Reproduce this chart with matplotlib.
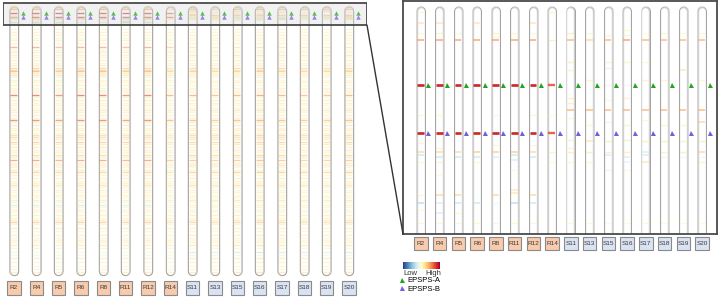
import numpy as np
import matplotlib
matplotlib.use("Agg")
import matplotlib.pyplot as plt
from matplotlib.patches import Rectangle, ConnectionPatch
from matplotlib.lines import Line2D

plt.rcParams["font.family"] = ["Liberation Sans", "DejaVu Sans"]

W, H = 720, 297

SAMPLES = ["R2", "R4", "R5", "R6", "R8", "R11", "R12", "R14",
           "S11", "S13", "S15", "S16", "S17", "S18", "S19", "S20"]
GROUPS = ["R"] * 8 + ["S"] * 8

CHROM_LEN = 142.0     # Mb
WINDOW_END = 10.0     # zoomed region 0-10 Mb
EPSPS_A = 3.44
EPSPS_B = 5.55

# whole chromosome, outside the zoom window: (position Mb, relative copy number)
R_PROFILE = [(12.0, 0.1), (13.5, 0.15), (15.3, 0.12), (16.8, 0.1), (17.9, 0.15),
             (19.5, 0.12), (21.6, 0.5), (23.0, 0.15), (24.2, 0.2), (25.8, 0.15),
             (27.0, 0.12), (28.4, 0.15), (30.0, 0.1), (31.1, 0.2), (32.6, 0.35),
             (33.5, 0.3), (34.2, 0.45), (35.3, 0.2), (36.3, 0.25), (37.6, 0.12),
             (38.9, 0.15), (40.2, 0.1), (41.6, 0.15), (43.0, 0.12), (44.2, 0.15),
             (45.5, 0.12), (46.8, 0.7), (48.0, 0.15), (49.5, 0.2), (51.0, 0.12),
             (52.1, 0.15), (53.5, 0.1), (54.7, 0.2), (56.0, 0.15), (57.4, 0.15),
             (58.8, 0.12), (60.0, 0.65), (61.3, 0.15), (62.6, 0.2), (64.0, 0.12),
             (65.3, 0.15), (66.8, 0.12), (68.0, 0.3), (68.9, 0.3), (70.2, 0.2),
             (71.6, 0.35), (72.8, 0.2), (74.2, 0.2), (75.8, 0.15), (77.0, 0.15),
             (78.4, 0.3), (79.6, 0.2), (81.1, 0.55), (82.4, 0.15), (83.7, 0.2),
             (85.0, 0.15), (86.3, 0.2), (87.4, 0.35), (88.8, 0.15), (90.5, 0.15),
             (92.0, 0.12), (93.0, 0.15), (94.2, 0.25), (95.5, 0.12), (96.8, 0.15),
             (98.0, 0.1), (99.5, 0.15), (100.8, 0.1), (102.1, 0.2), (103.4, 0.12),
             (104.7, -0.3), (106.0, 0.1), (107.4, 0.15), (108.7, 0.1), (110.0, 0.15),
             (111.5, 0.12), (112.6, 0.2), (113.7, 0.35), (115.0, 0.12), (116.8, 0.2),
             (118.5, 0.1), (120.5, 0.15), (122.0, 0.1), (123.2, 0.15), (124.5, 0.12),
             (125.8, 0.2), (127.5, 0.12), (129.5, -0.15), (131.0, 0.1), (132.6, 0.15),
             (134.7, 0.12), (136.8, -0.2), (138.5, 0.12), (140.0, 0.2)]
S_PROFILE = [(12.0, 0.12), (13.5, 0.1), (15.3, 0.15), (16.8, 0.12), (17.9, 0.1),
             (19.5, 0.15), (21.6, 0.25), (23.0, 0.12), (24.2, 0.15), (25.8, 0.25),
             (27.0, 0.1), (28.4, 0.2), (30.0, 0.12), (31.1, 0.2), (32.6, 0.35),
             (33.5, 0.25), (34.2, 0.4), (35.3, 0.15), (36.3, 0.2), (37.6, 0.15),
             (38.9, 0.12), (40.2, 0.15), (41.6, 0.1), (43.0, 0.15), (44.2, 0.12),
             (45.5, 0.15), (46.8, 0.55), (48.0, 0.12), (49.5, 0.2), (51.0, 0.15),
             (52.1, 0.12), (53.5, 0.15), (54.7, 0.25), (56.0, 0.12), (57.4, 0.15),
             (58.8, 0.15), (60.0, 0.5), (61.3, 0.2), (62.6, 0.25), (64.0, 0.15),
             (65.3, 0.2), (66.8, 0.15), (68.0, 0.35), (68.9, 0.3), (70.2, 0.25),
             (71.6, 0.35), (72.8, 0.25), (74.2, 0.15), (75.8, 0.2), (77.0, 0.12),
             (78.4, 0.35), (79.6, 0.25), (81.1, 0.45), (82.4, 0.2), (83.7, 0.25),
             (85.0, 0.12), (86.3, 0.15), (87.4, 0.4), (88.8, 0.12), (90.5, 0.2),
             (92.0, 0.15), (93.0, 0.12), (94.2, 0.3), (95.5, 0.15), (96.8, 0.12),
             (98.0, 0.15), (99.5, 0.12), (100.8, 0.15), (102.1, 0.25), (103.4, 0.1),
             (104.7, 0.15), (106.0, 0.12), (107.4, 0.15), (108.7, 0.12), (110.0, 0.2),
             (111.5, 0.1), (112.6, 0.25), (113.7, 0.35), (115.0, 0.15), (116.8, 0.15),
             (118.5, 0.12), (120.5, 0.2), (122.0, 0.12), (123.2, 0.1), (124.5, 0.15),
             (125.8, 0.25), (127.5, 0.1), (129.5, -0.35), (131.0, 0.12), (132.6, 0.2),
             (134.7, 0.15), (136.8, 0.12), (138.5, 0.1), (140.0, 0.25)]
LEFT_INTENSITY = [1.0, 1.0, 0.9, 1.0, 1.0, 0.9, 1.0, 0.7,
                  0.9, 0.8, 0.9, 1.0, 0.9, 0.8, 0.8, 0.9]

# zoom window 0-10 Mb, one list per sample: (position Mb, relative copy number)
ZOOM_BANDS = [
    [(0.22, 0.12), (0.70, 0.25), (1.15, 0.12), (1.45, 0.45), (3.44, 0.85), (4.76, 0.12),
     (5.55, 0.85), (5.99, 0.12), (6.39, 0.3), (6.52, -0.35), (6.83, 0.12), (8.28, 0.12),
     (8.63, -0.4), (8.94, 0.1), (9.52, 0.12)],
    [(0.70, 0.25), (1.15, 0.15), (1.45, 0.45), (3.44, 0.85), (4.76, 0.12), (5.55, 0.85),
     (6.21, 0.12), (6.39, 0.3), (6.61, -0.35), (6.83, 0.15), (7.40, 0.1), (8.28, 0.3),
     (8.63, -0.3), (9.07, -0.3), (9.52, 0.12)],
    [(1.15, 0.12), (1.45, 0.45), (3.44, 0.85), (5.55, 0.85), (6.39, 0.3), (6.61, -0.35),
     (8.28, 0.3), (8.63, -0.35), (9.07, 0.12), (9.52, 0.12)],
    [(0.70, 0.25), (1.45, 0.45), (3.44, 0.85), (5.55, 0.85), (6.39, 0.35), (6.61, -0.35),
     (6.83, 0.12), (8.63, -0.35), (9.52, 0.12)],
    [(1.15, 0.15), (1.32, 0.12), (1.45, 0.45), (3.44, 0.85), (4.76, 0.12), (5.55, 0.85),
     (6.08, 0.12), (6.39, 0.35), (6.61, -0.3), (8.28, 0.3), (8.63, -0.2), (9.52, 0.12)],
    [(1.15, 0.15), (1.45, 0.45), (3.44, 0.85), (5.55, 0.85), (6.39, 0.35), (6.52, -0.35),
     (6.74, -0.3), (7.18, 0.1), (8.06, 0.25), (8.19, 0.25), (8.63, -0.4), (9.52, 0.12)],
    [(0.70, 0.25), (1.15, 0.12), (1.45, 0.45), (3.44, 0.85), (4.76, 0.12), (5.55, 0.85),
     (6.08, 0.12), (6.39, 0.3), (6.61, -0.35), (8.28, 0.3), (8.63, -0.35), (9.52, 0.12)],
    [(0.22, 0.12), (1.45, 0.2), (3.44, 0.7), (4.76, 0.1), (5.55, 0.7), (6.39, 0.15),
     (6.83, 0.1)],
    [(1.15, 0.2), (1.45, 0.4), (2.42, 0.2), (2.78, 0.15), (4.01, 0.2), (4.23, 0.2),
     (4.54, 0.4), (4.89, 0.12), (5.86, 0.15), (6.21, 0.15), (6.39, 0.2), (6.83, 0.12),
     (9.52, 0.1)],
    [(1.15, 0.12), (1.45, 0.3), (3.22, 0.15), (4.54, 0.4), (5.20, 0.12), (5.90, 0.25),
     (6.39, 0.2), (6.83, 0.12), (9.52, 0.1)],
    [(1.23, 0.15), (1.45, 0.4), (2.42, 0.15), (2.69, 0.15), (3.44, -0.2), (4.10, 0.12),
     (4.54, 0.4), (5.07, 0.15), (5.90, 0.2), (6.39, 0.2), (6.52, -0.3), (7.18, 0.15),
     (9.52, 0.1)],
    [(1.01, 0.12), (1.23, 0.12), (1.45, 0.45), (2.42, 0.15), (3.44, -0.2), (4.01, 0.15),
     (4.54, 0.4), (5.20, 0.15), (5.86, 0.2), (6.39, 0.2), (6.61, -0.3), (6.83, -0.25),
     (7.18, 0.1), (9.52, 0.1)],
    [(1.15, 0.1), (1.45, 0.4), (2.42, 0.1), (3.22, 0.15), (4.54, 0.4), (4.98, 0.12),
     (5.90, 0.2), (6.39, -0.3), (6.52, -0.3), (6.83, 0.25), (9.52, 0.1)],
    [(1.15, 0.12), (1.45, 0.4), (3.22, 0.12), (4.54, 0.4), (5.20, 0.15), (5.90, 0.2),
     (6.39, 0.2), (6.61, -0.2), (9.52, 0.1)],
    [(1.15, 0.12), (1.45, 0.4), (2.78, 0.25), (4.54, 0.4), (5.20, 0.15), (5.90, 0.2),
     (6.39, 0.2), (6.61, -0.2), (9.52, 0.1)],
    [(1.15, 0.12), (1.45, 0.4), (3.22, 0.12), (4.54, 0.4), (5.07, 0.3), (5.90, 0.2),
     (6.39, 0.3), (6.61, -0.2), (6.83, 0.15), (9.52, 0.1)],
]

LEGEND_LABELS = ["EPSPS-A", "EPSPS-B"]
LABEL_FILL = {"R": "#f8cbad", "S": "#dae3f3"}
GREEN = "#1fa51f"
PURPLE = "#6f5ee0"
PT = 0.72  # points per pixel at dpi 100

cmap = plt.get_cmap("RdYlBu_r")


def px_axes(fig, x0, y0, x1, y1):
    return fig.add_axes([x0 / W, 1 - y1 / H, (x1 - x0) / W, (y1 - y0) / H])


def draw_tube(ax, x, bottom, width, inner, cap, px):
    """Tube of `width` px: thin dark left edge, thicker light right edge."""
    ys = [cap, bottom - cap]
    ax.plot([x + 0.3 * px] * 2, ys, color="#cbcbcb", lw=width * PT,
            solid_capstyle="round", zorder=1)
    ax.plot([x - 0.3 * px] * 2, ys, color="#a2a2a2", lw=(width - 0.6) * PT,
            solid_capstyle="round", zorder=1.1)
    ax.plot([x + 0.3 * px] * 2, ys, color="#cfcfcf", lw=(inner + 1.4) * PT,
            solid_capstyle="round", zorder=1.2)
    ax.plot([x - 0.4 * px] * 2, ys, color="white", lw=inner * PT,
            solid_capstyle="round", zorder=2)


def draw_bands(ax, x, bands, half, lw_base, lw_gain, a_base, a_gain, scale=1.0):
    for pos, val in bands:
        v = val * scale
        ax.hlines(pos, x - half, x + half, color=cmap(0.5 + 0.5 * v),
                  lw=lw_base + lw_gain * abs(v),
                  alpha=min(1.0, a_base + a_gain * abs(v)), zorder=3)


def draw_label(ax, x, y, w, h, name, group):
    ax.add_patch(Rectangle((x - w / 2, y - h / 2), w, h, facecolor=LABEL_FILL[group],
                           edgecolor="#8a8a8a", lw=0.8, clip_on=False, zorder=5))
    ax.text(x, y, name, ha="center", va="center", fontsize=4.6, color="#3a3a3a",
            clip_on=False, zorder=6)


fig = plt.figure(figsize=(W / 100, H / 100), dpi=100)

# ---- whole chromosomes ----
axl = px_axes(fig, 3, 0, 367, 297)
axl.set_xlim(-0.49, 15.81)
axl.set_ylim(153.2, -3.2)
axl.axis("off")
pxl = 1 / 22.33

for i, (name, grp) in enumerate(zip(SAMPLES, GROUPS)):
    draw_tube(axl, i, CHROM_LEN, 10, 7, 2.6, pxl)
    profile = R_PROFILE if grp == "R" else S_PROFILE
    xb = i - 0.4 * pxl
    draw_bands(axl, xb, profile, 3.4 * pxl, 1.0, 0.0, 0.45, 0.3, LEFT_INTENSITY[i])
    draw_bands(axl, xb, ZOOM_BANDS[i], 3.4 * pxl, 1.0, 0.0, 0.45, 0.3)
    axl.plot(i + 0.42, EPSPS_A, "^", color=GREEN, ms=3.2, mew=0, zorder=4)
    axl.plot(i + 0.42, EPSPS_B, "^", color=PURPLE, ms=3.2, mew=0, zorder=4)
    draw_label(axl, i, 148.4, 0.6, 7.4, name, grp)

# highlighted window
axl.add_patch(Rectangle((-0.49, -1.6), 16.3, WINDOW_END + 1.6, facecolor="#d8d8d8",
                        alpha=0.35, edgecolor="none", zorder=4.5))
axl.add_patch(Rectangle((-0.49, -1.6), 16.3, WINDOW_END + 1.6, facecolor="none",
                        edgecolor="#3c3c3c", lw=1.2, zorder=5))

# ---- zoom window ----
axr = px_axes(fig, 403, 1, 717, 234)
axr.set_xlim(-0.96, 15.8)
axr.set_ylim(WINDOW_END, -0.26)
axr.set_xticks([])
axr.set_yticks([])
for sp in axr.spines.values():
    sp.set_color("#4a4a4a")
    sp.set_linewidth(1.3)
pxr = 1 / 18.73

for i, (name, grp) in enumerate(zip(SAMPLES, GROUPS)):
    draw_tube(axr, i, 12.0, 9.5, 6.6, 0.2, pxr)
    draw_bands(axr, i - 0.4 * pxr, ZOOM_BANDS[i], 3.3 * pxr, 0.8, 1.3, 0.35, 0.75)
    axr.plot(i + 0.4, EPSPS_A, "^", color=GREEN, ms=3.6, mew=0, zorder=4)
    axr.plot(i + 0.4, EPSPS_B, "^", color=PURPLE, ms=3.6, mew=0, zorder=4)
    draw_label(axr, i, 10.4, 0.72, 0.57, name, grp)

con = ConnectionPatch(xyA=(15.81, WINDOW_END), coordsA=axl.transData,
                      xyB=(0, 0), coordsB=axr.transAxes, color="#333333", lw=1.0)
fig.add_artist(con)

# ---- legend ----
cax = px_axes(fig, 403, 262, 439, 269)
cax.imshow(np.linspace(0, 1, 256)[None, :], aspect="auto", cmap=cmap)
cax.set_xticks([])
cax.set_yticks([])
for sp in cax.spines.values():
    sp.set_visible(False)
fig.text(403 / W, 1 - 270 / H, "Low", ha="left", va="top", fontsize=5.5, color="#333333")
fig.text(441 / W, 1 - 270 / H, "High", ha="right", va="top", fontsize=5.5, color="#333333")

handles = [Line2D([], [], ls="none", marker="^", color=c, ms=3.6, mew=0)
           for c in (GREEN, PURPLE)]
fig.legend(handles, LEGEND_LABELS, loc="upper left", bbox_to_anchor=(400 / W, 1 - 277 / H),
           frameon=False, fontsize=5.5, handlelength=0.6, handletextpad=0.4,
           labelspacing=0.15, borderpad=0, borderaxespad=0)

fig.savefig("out.png", dpi=100)
